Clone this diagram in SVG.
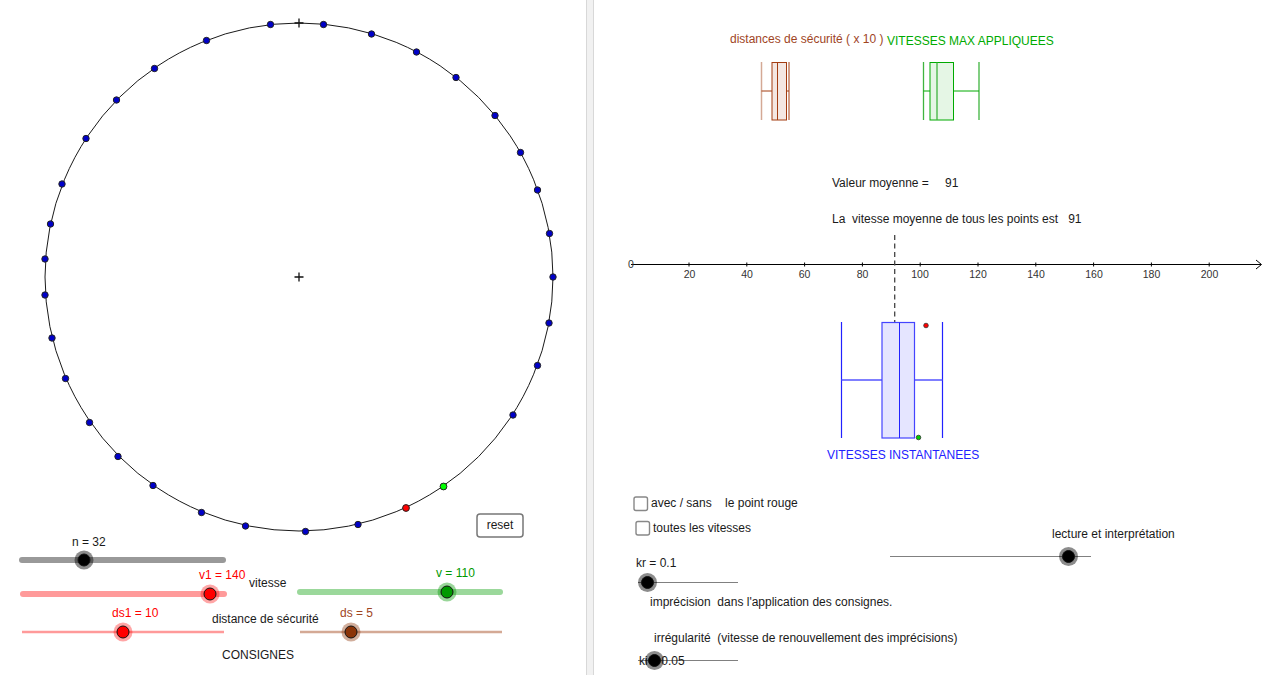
<svg xmlns="http://www.w3.org/2000/svg" width="1263" height="675" viewBox="0 0 1263 675">
<style>
text{font-family:"Liberation Sans",Arial,sans-serif;font-size:12px;fill:#1a1a1a}
.tick{font-size:10.500px;fill:#333;text-anchor:middle}
.pt{fill:#0000c8;stroke:#222;stroke-width:1}
.thin{stroke:#808080;stroke-width:1;fill:none}
.knob{stroke:#111;stroke-width:1}
.cb{fill:#fff;stroke:#888;stroke-width:1.400}
</style>
<rect width="1263" height="675" fill="#fff"/>
<g id="divider"><rect x="586.500" y="0" width="7" height="675" fill="#f1f1f1"/><path d="M586.500 0V675M593.500 0V675" stroke="#d8d8d8" fill="none"/></g>
<g id="circle">
<circle cx="299" cy="277" r="254" fill="none" stroke="#1a1a1a" stroke-width="1"/>
<path d="M294.500 277H303.500M299 272.500V281.500M294.500 23H303.500M299 18.500V27.500" stroke="#111" stroke-width="1.300" fill="none"/>
</g>
<g id="points">
<circle class="pt" cx="270.500" cy="24.500" r="3.200"/><circle class="pt" cx="323.500" cy="24.500" r="3.200"/><circle class="pt" cx="371.500" cy="34" r="3.200"/><circle class="pt" cx="416.500" cy="52" r="3.200"/><circle class="pt" cx="456" cy="77.500" r="3.200"/><circle class="pt" cx="495" cy="115.500" r="3.200"/><circle class="pt" cx="520.500" cy="152.500" r="3.200"/><circle class="pt" cx="537.500" cy="190" r="3.200"/><circle class="pt" cx="549.500" cy="233.500" r="3.200"/><circle class="pt" cx="553" cy="277" r="3.200"/><circle class="pt" cx="549" cy="323" r="3.200"/><circle class="pt" cx="537.500" cy="365.500" r="3.200"/><circle class="pt" cx="513" cy="415" r="3.200"/><circle class="pt" cx="358" cy="524.500" r="3.200"/><circle class="pt" cx="305.500" cy="531.500" r="3.200"/><circle class="pt" cx="245.500" cy="526" r="3.200"/><circle class="pt" cx="201.500" cy="512.500" r="3.200"/><circle class="pt" cx="153" cy="485.500" r="3.200"/><circle class="pt" cx="118" cy="456.500" r="3.200"/><circle class="pt" cx="89.500" cy="422.500" r="3.200"/><circle class="pt" cx="65.500" cy="378.500" r="3.200"/><circle class="pt" cx="52" cy="338" r="3.200"/><circle class="pt" cx="45" cy="295" r="3.200"/><circle class="pt" cx="45" cy="259" r="3.200"/><circle class="pt" cx="50.500" cy="224" r="3.200"/><circle class="pt" cx="62" cy="184" r="3.200"/><circle class="pt" cx="86" cy="138.500" r="3.200"/><circle class="pt" cx="116.500" cy="100" r="3.200"/><circle class="pt" cx="154.500" cy="68.500" r="3.200"/><circle class="pt" cx="206.500" cy="40.500" r="3.200"/>
<circle cx="443.500" cy="486.500" r="3.400" fill="#0f0" stroke="#222" stroke-width="1"/>
<circle cx="406" cy="508" r="3.400" fill="#f00" stroke="#222" stroke-width="1"/>
</g>
<g id="reset"><rect x="477" y="514" width="46" height="23" rx="3" fill="#fff" stroke="#777" stroke-width="1.500"/><text x="500" y="529" text-anchor="middle">reset</text></g>
<g id="slider-n"><path d="M22 560H223" stroke="#999" stroke-width="6" stroke-linecap="round"/><circle cx="84" cy="560" r="9.500" fill="#000" fill-opacity=".45"/><circle class="knob" cx="84" cy="560" r="6" fill="#000"/><text x="72" y="545.500">n = 32</text></g>
<g id="slider-v1"><path d="M23 594H224" stroke="#ff9a9a" stroke-width="6" stroke-linecap="round"/><circle cx="210" cy="594" r="9.500" fill="#f00" fill-opacity=".35"/><circle class="knob" cx="210" cy="594" r="6" fill="#f00"/><text x="199" y="579" style="fill:#f00">v1 = 140</text></g>
<g id="slider-v"><path d="M300 592H500" stroke="#9bd89b" stroke-width="6" stroke-linecap="round"/><circle cx="447" cy="592" r="9.500" fill="#090" fill-opacity=".4"/><circle class="knob" cx="447" cy="592" r="6" fill="#090"/><text x="436" y="577" style="fill:#090">v = 110</text></g>
<g id="slider-ds1"><path d="M22 632H224" stroke="#ff9a9a" stroke-width="2.500"/><circle cx="123" cy="632" r="9.500" fill="#f00" fill-opacity=".35"/><circle class="knob" cx="123" cy="632" r="6" fill="#f00"/><text x="112" y="617" style="fill:#f00">ds1 = 10</text></g>
<g id="slider-ds"><path d="M300 632H502" stroke="#d4a995" stroke-width="2.500"/><circle cx="351" cy="632" r="9.500" fill="#8b3408" fill-opacity=".4"/><circle class="knob" cx="351" cy="632" r="6" fill="#8b3408"/><text x="340" y="617" style="fill:#a0451f">ds = 5</text></g>
<g id="labels-left">
<text x="249" y="587">vitesse</text>
<text x="212" y="623">distance de sécurité</text>
<text x="222" y="659">CONSIGNES</text>
</g>
<g id="boxplot-ds">
<path d="M761.500 62V120" stroke="#d4a995" stroke-width="1.500"/>
<path d="M789 62V120" stroke="#a33c10" stroke-width="1"/>
<path d="M761.500 91H772M786.500 91H789" stroke="#a33c10" stroke-width="1"/>
<rect x="772" y="62.500" width="14.500" height="57.500" fill="#a33c10" fill-opacity=".12" stroke="#a33c10" stroke-width="1"/>
<path d="M777.500 62.500V120" stroke="#a33c10" stroke-width="1"/>
</g>
<g id="boxplot-v">
<path d="M923.500 62V120M979 62V120" stroke="#3fb43f" stroke-width="1.300"/>
<path d="M923.500 91H930M953.500 91H979" stroke="#0a0" stroke-width="1"/>
<rect x="930" y="62.500" width="23.500" height="57.500" fill="#0a0" fill-opacity=".1" stroke="#0a0" stroke-width="1"/>
<path d="M937 62.500V120" stroke="#3fb43f" stroke-width="1.300"/>
</g>
<g id="titles">
<text x="730" y="43" style="fill:#a0451f">distances de sécurité ( x 10 )</text>
<text x="887" y="45" style="fill:#0a0">VITESSES MAX APPLIQUEES</text>
<text x="832" y="187">Valeur moyenne =</text><text x="945" y="187">91</text>
<text x="832" y="223" xml:space="preserve">La  vitesse moyenne de tous les points est   91</text>
</g>
<g id="axis">
<path d="M631 264.500H1261" stroke="#000" stroke-width="1"/>
<path d="M1256 260L1261.500 264.500L1256 269" fill="none" stroke="#000" stroke-width="1"/>
<path d="M689 262.500V266.500M746.800 262.500V266.500M804.600 262.500V266.500M862.400 262.500V266.500M920.200 262.500V266.500M978 262.500V266.500M1035.800 262.500V266.500M1093.600 262.500V266.500M1151.400 262.500V266.500M1209.200 262.500V266.500" stroke="#000" stroke-width="1"/>
<text class="tick" x="631" y="268">0</text>
<text class="tick" x="689.500" y="278">20</text><text class="tick" x="747" y="278">40</text><text class="tick" x="804.500" y="278">60</text><text class="tick" x="862.500" y="278">80</text><text class="tick" x="920" y="278">100</text><text class="tick" x="978" y="278">120</text><text class="tick" x="1036" y="278">140</text><text class="tick" x="1094" y="278">160</text><text class="tick" x="1151.500" y="278">180</text><text class="tick" x="1209.500" y="278">200</text>
</g>
<g id="boxplot-inst">
<path d="M894.700 235V322" stroke="#444" stroke-width="1.300" stroke-dasharray="5 3.500" fill="none"/>
<path d="M841.500 322V438M942.500 322V438" stroke="#2222ff" stroke-width="1.200"/>
<path d="M841.500 380H882M914.500 380H942.500" stroke="#5555ff" stroke-width="1.400"/>
<rect x="882" y="322.500" width="32.500" height="115.500" fill="#00f" fill-opacity=".1" stroke="#4444ff" stroke-width="1.200"/>
<path d="M899.500 322.500V438" stroke="#2222ff" stroke-width="1"/>
<circle cx="926" cy="325.500" r="2.300" fill="#f00" stroke="#333" stroke-width=".8"/>
<circle cx="918.500" cy="437.500" r="2.300" fill="#0c0" stroke="#333" stroke-width=".8"/>
<text x="827" y="459" style="fill:#22f">VITESSES INSTANTANEES</text>
</g>
<g id="checkboxes">
<rect x="634" y="497" width="13.500" height="13.500" rx="2" class="cb"/><text x="651" y="507" xml:space="preserve">avec / sans    le point rouge</text>
<rect x="636" y="521.500" width="13.500" height="13.500" rx="2" class="cb"/><text x="653" y="532">toutes les vitesses</text>
</g>
<g id="slider-lecture"><path class="thin" d="M890 556.500H1091"/><circle cx="1068.500" cy="556.500" r="9.500" fill="#000" fill-opacity=".45"/><circle class="knob" cx="1068.500" cy="556.500" r="6" fill="#000"/><text x="1052" y="537.500">lecture et interprétation</text></g>
<g id="slider-kr"><path class="thin" d="M638 582.500H738"/><circle cx="647.500" cy="582.500" r="9.500" fill="#000" fill-opacity=".45"/><circle class="knob" cx="647.500" cy="582.500" r="6" fill="#000"/><text x="636" y="567">kr = 0.1</text></g>
<g id="slider-ki"><path class="thin" d="M638 660.500H738"/><text x="639" y="665">ki = 0.05</text><circle cx="654.500" cy="660.500" r="9.500" fill="#000" fill-opacity=".45"/><circle class="knob" cx="654.500" cy="660.500" r="6" fill="#000"/></g>
<g id="labels-right">
<text x="650" y="606" xml:space="preserve">imprécision  dans l'application des consignes.</text>
<text x="654" y="642" xml:space="preserve">irrégularité  (vitesse de renouvellement des imprécisions)</text>
</g>
</svg>
